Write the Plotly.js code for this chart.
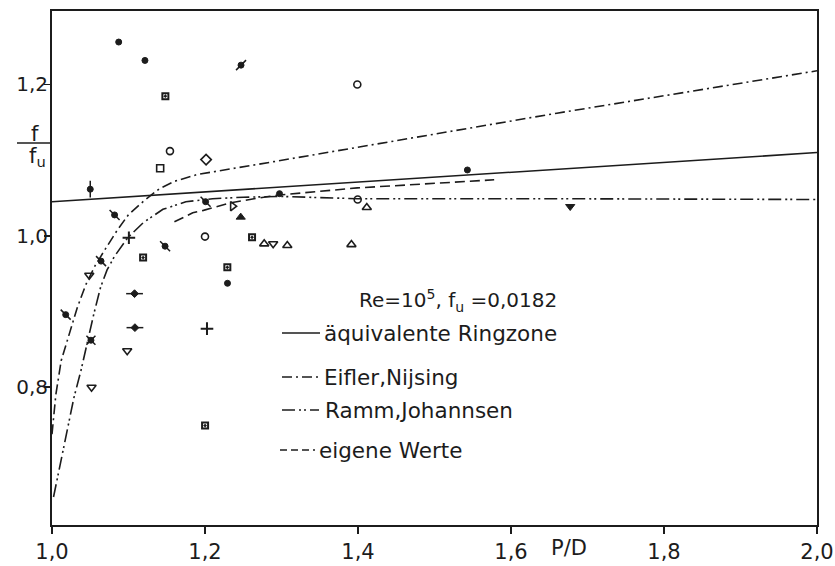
<!DOCTYPE html>
<html><head><meta charset="utf-8">
<script src="https://cdn.plot.ly/plotly-3.0.1.min.js"></script>
<style>html,body{margin:0;padding:0;background:#fff}#c{width:835px;height:566px}</style>
</head><body><div id="c"></div>
<script>
// ---- curves ----
const ringX = [1.0, 2.0];
const ringY = [1.045, 1.11];
const eiflerX = [1.0, 1.005, 1.012, 1.022, 1.033, 1.044, 1.056, 1.07, 1.085, 1.10, 1.12, 1.14, 1.16, 1.19, 1.23, 1.29, 1.66, 2.0];
const eiflerY = [0.738, 0.79, 0.835, 0.87, 0.905, 0.935, 0.96, 0.983, 1.007, 1.028, 1.046, 1.062, 1.072, 1.081, 1.088, 1.098, 1.162, 1.218];
const rammX = [1.002, 1.010, 1.018, 1.0286, 1.0377, 1.0455, 1.0545, 1.0635, 1.072, 1.082, 1.099, 1.12, 1.145, 1.175, 1.21, 1.25, 1.30, 1.40, 1.66, 2.0];
const rammY = [0.655, 0.695, 0.735, 0.786, 0.8213, 0.858, 0.896, 0.932, 0.955, 0.9734, 0.9975, 1.018, 1.035, 1.045, 1.049, 1.051, 1.052, 1.049, 1.049, 1.048];
const eigeneX = [1.16, 1.184, 1.198, 1.233, 1.264, 1.294, 1.399, 1.578];
const eigeneY = [1.0185, 1.0304, 1.0336, 1.0435, 1.049, 1.0536, 1.0633, 1.074];

// ---- measured points ----
const dotX = [1.0872, 1.1215, 1.2294, 1.543, 1.2974];
const dotY = [1.256, 1.2317, 0.9373, 1.087, 1.0557];
const sqDotX = [1.1482, 1.2615, 1.1191, 1.2292, 1.2001];
const sqDotY = [1.1845, 0.998, 0.9713, 0.9584, 0.7493];
const openCircX = [1.1542, 1.2, 1.3991, 1.3996];
const openCircY = [1.1119, 0.999, 1.1999, 1.048];
const openSqX = [1.1414];
const openSqY = [1.0893];
const openDiaX = [1.2014];
const openDiaY = [1.1007];
const slashX = [1.0818, 1.2008, 1.1478, 1.0641, 1.0179];
const slashY = [1.0276, 1.0451, 0.9863, 0.9666, 0.8959];
const slashNeX = [1.2471];
const slashNeY = [1.2255];
const vbarX = [1.05];
const vbarY = [1.0616];
const hbarX = [1.1079, 1.1084];
const hbarY = [0.9236, 0.8787];
const crossCircX = [1.0509];
const crossCircY = [0.8621];
const plusX = [1.1005, 1.2026];
const plusY = [0.9975, 0.8774];
const triRightX = [1.2361];
const triRightY = [1.0391];
const triUpFX = [1.2467];
const triUpFY = [1.0247];
const triUpX = [1.2774, 1.4115, 1.3076, 1.3914];
const triUpY = [0.9894, 1.0375, 0.9872, 0.9884];
const triDownX = [1.2891, 1.0487, 1.0983, 1.0517];
const triDownY = [0.9896, 0.948, 0.8482, 0.80];
const triDownFX = [1.6774];
const triDownFY = [1.0387];

const xTicks = [1.0, 1.2, 1.4, 1.6, 1.8, 2.0];
const xTickText = ['1,0', '1,2', '1,4', '1,6', '1,8', '2,0'];
const yTicks = [0.8, 1.0, 1.2];
const yTickText = ['0,8', '1,0', '1,2'];

const INK = '#1c1c1c';
const FONT = 'DejaVu Sans, Liberation Sans, sans-serif';
const DASH_EIFLER = '10px,4px,2px,4px';
const DASH_RAMM = '13px,4px,2px,3px,2px,4px';

function line(x, y, dash) {
  return {x: x, y: y, type: 'scatter', mode: 'lines', hoverinfo: 'skip',
    line: {color: INK, width: 1.6, dash: dash, shape: 'linear'}};
}
function pts(x, y, symbol, size, lw) {
  return {x: x, y: y, type: 'scatter', mode: 'markers', hoverinfo: 'skip',
    marker: {symbol: symbol, size: size, color: INK, line: {color: INK, width: lw}}};
}

const data = [
  line(ringX, ringY, 'solid'),
  line(eiflerX, eiflerY, DASH_EIFLER),
  line(rammX, rammY, DASH_RAMM),
  line(eigeneX, eigeneY, '10px,5px'),
  pts(dotX, dotY, 'circle', 6, 1),
  pts(sqDotX, sqDotY, 'square-open-dot', 6, 2),
  pts(openCircX, openCircY, 'circle-open', 7, 1.6),
  pts(openSqX, openSqY, 'square-open', 7, 1.6),
  pts(openDiaX, openDiaY, 'diamond-open', 8, 1.6),
  pts(slashX, slashY, 'circle', 6, 1),
  pts(slashX, slashY, 'line-nw', 10, 1.5),
  pts(slashNeX, slashNeY, 'circle', 6, 1),
  pts(slashNeX, slashNeY, 'line-ne', 10, 1.5),
  pts(vbarX, vbarY, 'circle', 6, 1),
  pts(vbarX, vbarY, 'line-ns', 12, 1.5),
  pts(hbarX, hbarY, 'diamond', 6, 1),
  pts(hbarX, hbarY, 'line-ew', 12, 1.5),
  pts(crossCircX, crossCircY, 'circle', 6, 1),
  pts(crossCircX, crossCircY, 'x-thin-open', 9, 1.5),
  pts(plusX, plusY, 'cross-thin-open', 9, 2),
  pts(triRightX, triRightY, 'triangle-right-open', 8, 1.6),
  pts(triUpFX, triUpFY, 'triangle-up', 8, 1),
  pts(triUpX, triUpY, 'triangle-up-open', 8, 1.6),
  pts(triDownX, triDownY, 'triangle-down-open', 8, 1.6),
  pts(triDownFX, triDownFY, 'triangle-down', 8, 1)
];

// pixel -> paper helpers for decorations
const L = 52, R = 817, T = 11, B = 525;
const px = v => (v - L) / (R - L);
const py = v => (B - v) / (B - T);

const legendRows = [
  {text: 'äquivalente Ringzone', y: 333, x0: 282, x1: 320, tx: 322, dash: 'solid'},
  {text: 'Eifler,Nijsing', y: 377, x0: 282, x1: 318, tx: 322, dash: DASH_EIFLER},
  {text: 'Ramm,Johannsen', y: 410, x0: 282, x1: 319, tx: 323, dash: DASH_RAMM},
  {text: 'eigene Werte', y: 450, x0: 280, x1: 315, tx: 317, dash: '7px,4px'}
];

const annotations = [
  {text: 'Re=10<sup>5</sup>, f<sub>u</sub> =0,0182', xref: 'paper', yref: 'paper', x: px(357), y: py(300),
   xanchor: 'left', yanchor: 'middle', showarrow: false, font: {family: FONT, size: 20, color: INK}},
  {text: 'f', xref: 'paper', yref: 'paper', x: px(35), y: py(134), xanchor: 'center', yanchor: 'middle',
   showarrow: false, font: {family: FONT, size: 21, color: INK}},
  {text: 'f<sub>u</sub>', xref: 'paper', yref: 'paper', x: px(37), y: py(157), xanchor: 'center', yanchor: 'middle',
   showarrow: false, font: {family: FONT, size: 21, color: INK}},
  {text: 'P/D', xref: 'paper', yref: 'paper', x: px(569), y: py(548), xanchor: 'center', yanchor: 'middle',
   showarrow: false, font: {family: FONT, size: 21, color: INK}}
];
const shapes = [
  {type: 'line', xref: 'paper', yref: 'paper', x0: px(17), x1: px(50), y0: py(143), y1: py(143),
   line: {color: INK, width: 1.6}}
];
legendRows.forEach(r => {
  annotations.push({text: r.text, xref: 'paper', yref: 'paper', x: px(r.tx), y: py(r.y), xanchor: 'left',
    yanchor: 'middle', showarrow: false, font: {family: FONT, size: 21.5, color: INK}});
  shapes.push({type: 'line', xref: 'paper', yref: 'paper', x0: px(r.x0), x1: px(r.x1), y0: py(r.y), y1: py(r.y),
    line: {color: INK, width: 1.6, dash: r.dash}});
});

const layout = {
  width: 835, height: 566,
  margin: {l: L, r: 835 - R, t: T, b: 566 - B, pad: 0},
  paper_bgcolor: '#fff', plot_bgcolor: '#fff',
  showlegend: false,
  font: {family: FONT, color: INK, size: 20},
  xaxis: {range: [1.0, 2.0], tickvals: xTicks, ticktext: xTickText, ticks: 'outside', ticklen: 7,
    tickwidth: 1.5, tickcolor: INK, showline: true, linecolor: INK, linewidth: 2, mirror: true,
    showgrid: false, zeroline: false, tickfont: {family: FONT, size: 21, color: INK}},
  yaxis: {range: [0.618, 1.297], tickvals: yTicks, ticktext: yTickText, ticks: 'outside', ticklen: 6,
    tickwidth: 1.5, tickcolor: INK, showline: true, linecolor: INK, linewidth: 2, mirror: true,
    ticklabelstandoff: -8,
    showgrid: false, zeroline: false, tickfont: {family: FONT, size: 20, color: INK}},
  annotations: annotations,
  shapes: shapes
};

Plotly.newPlot('c', data, layout, {staticPlot: true, displayModeBar: false});
</script>
</body></html>
